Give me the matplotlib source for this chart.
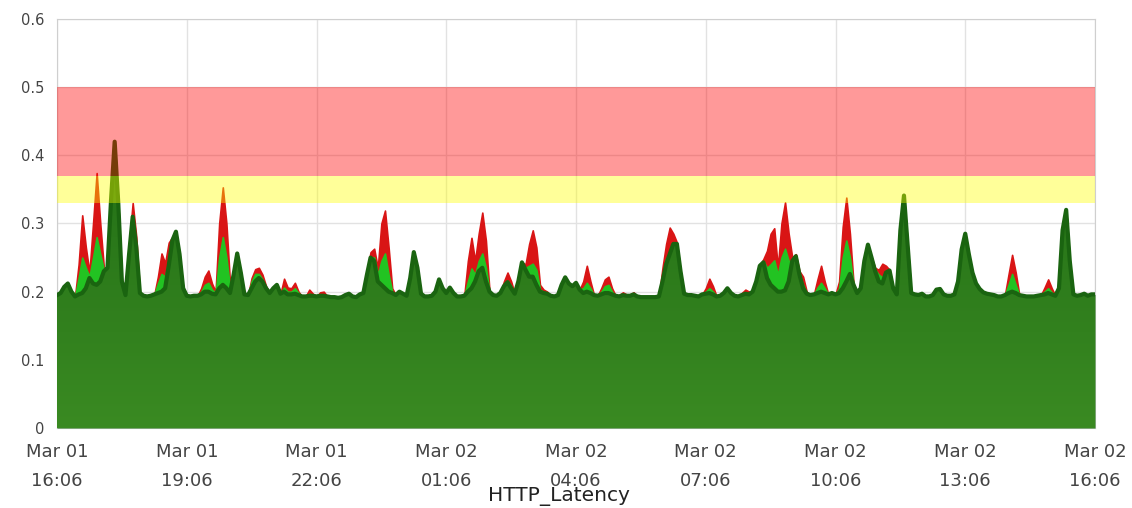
import numpy as np
import pandas as pd
import matplotlib
matplotlib.use("Agg")
import matplotlib.pyplot as plt
import matplotlib.dates as mdates
from matplotlib.colors import LinearSegmentedColormap

# 5-minute samples, Mar 01 16:06 -> Mar 02 16:06 (one row per hour)
times = pd.date_range("2016-03-01 16:06", periods=289, freq="5min")

# dark green series (bottom layer)
dark = [
    .195, .198, .207, .212, .200, .193, .196, .198, .205, .220, .212, .210,
    .215, .230, .235, .335, .420, .330, .215, .195, .255, .310, .265, .198,
    .194, .193, .194, .196, .198, .200, .205, .238, .275, .288, .255, .205,
    .194, .193, .194, .194, .196, .200, .200, .197, .196, .205, .210, .205,
    .198, .225, .256, .228, .196, .195, .205, .215, .220, .215, .205, .198,
    .205, .210, .197, .200, .196, .196, .197, .195, .193, .193, .194, .194,
    .193, .194, .194, .193, .192, .192, .191, .192, .195, .197, .193, .192,
    .196, .198, .225, .250, .245, .215, .210, .205, .200, .198, .195, .200,
    .197, .194, .220, .258, .235, .197, .193, .193, .194, .200, .218, .205,
    .198, .206, .198, .193, .193, .194, .200, .205, .215, .230, .235, .215,
    .200, .195, .194, .198, .208, .214, .205, .197, .215, .243, .232, .222,
    .222, .210, .200, .198, .197, .194, .193, .195, .210, .221, .212, .208,
    .213, .203, .198, .200, .198, .195, .194, .196, .198, .198, .196, .194,
    .193, .195, .194, .194, .196, .193, .192, .192, .192, .192, .192, .193,
    .215, .240, .255, .270, .270, .230, .197, .195, .195, .194, .193, .196,
    .197, .198, .196, .193, .194, .198, .205, .198, .194, .193, .195, .197,
    .196, .200, .215, .238, .243, .220, .210, .205, .200, .200, .202, .215,
    .245, .252, .225, .205, .197, .195, .196, .198, .200, .198, .196, .198,
    .196, .198, .205, .215, .226, .210, .198, .205, .245, .269, .250, .230,
    .215, .212, .228, .231, .205, .196, .290, .341, .270, .198, .196, .195,
    .197, .193, .193, .195, .203, .204, .196, .194, .194, .196, .215, .262,
    .285, .255, .228, .212, .204, .199, .197, .196, .195, .193, .193, .195,
    .198, .200, .198, .195, .194, .193, .193, .193, .194, .195, .196, .198,
    .196, .194, .205, .290, .320, .245, .196, .194, .195, .197, .194, .196, .196,
]

# light green layer (top of)
light = [
    .195, .198, .207, .212, .200, .193, .220, .250, .235, .222, .250, .280,
    .255, .232, .235, .335, .420, .330, .215, .195, .255, .310, .265, .198,
    .194, .193, .194, .196, .212, .226, .222, .248, .276, .288, .255, .205,
    .194, .193, .194, .194, .200, .210, .213, .203, .198, .250, .280, .250,
    .205, .225, .256, .228, .196, .195, .215, .226, .226, .218, .205, .198,
    .205, .210, .197, .206, .200, .200, .205, .198, .193, .193, .197, .195,
    .193, .196, .196, .193, .192, .192, .191, .192, .195, .197, .193, .192,
    .196, .198, .226, .250, .250, .225, .245, .256, .225, .200, .195, .200,
    .197, .194, .220, .258, .235, .197, .193, .193, .194, .200, .218, .205,
    .198, .206, .198, .193, .193, .194, .215, .234, .225, .245, .256, .235,
    .200, .195, .194, .198, .212, .216, .208, .197, .215, .243, .235, .238,
    .241, .232, .203, .200, .198, .194, .193, .195, .210, .221, .212, .208,
    .213, .203, .205, .213, .205, .195, .194, .200, .208, .210, .200, .194,
    .194, .196, .195, .195, .197, .193, .192, .192, .192, .192, .192, .193,
    .225, .248, .258, .272, .270, .230, .197, .195, .195, .194, .193, .196,
    .200, .205, .200, .193, .194, .198, .205, .198, .194, .193, .196, .199,
    .197, .200, .215, .238, .245, .235, .240, .246, .225, .250, .263, .245,
    .245, .252, .226, .210, .198, .195, .196, .206, .213, .205, .196, .198,
    .196, .205, .250, .275, .250, .210, .198, .205, .245, .269, .250, .232,
    .225, .221, .230, .231, .205, .196, .290, .341, .270, .198, .196, .195,
    .197, .193, .193, .195, .203, .204, .196, .194, .194, .196, .215, .262,
    .285, .255, .228, .212, .204, .199, .197, .196, .195, .193, .193, .195,
    .210, .226, .210, .195, .194, .193, .193, .193, .194, .195, .200, .205,
    .199, .194, .205, .290, .320, .245, .196, .194, .195, .197, .194, .196, .196,
]

# red layer (top of)
red = [
    .195, .198, .207, .212, .200, .193, .240, .312, .265, .228, .300, .374,
    .300, .235, .235, .335, .420, .330, .215, .195, .270, .330, .280, .198,
    .194, .193, .194, .196, .222, .256, .242, .272, .280, .288, .255, .205,
    .194, .193, .194, .194, .205, .222, .231, .212, .200, .300, .353, .300,
    .212, .225, .256, .228, .196, .195, .220, .233, .235, .225, .208, .198,
    .205, .210, .197, .219, .206, .205, .213, .200, .193, .193, .203, .197,
    .193, .199, .200, .193, .192, .192, .191, .192, .195, .197, .193, .192,
    .196, .198, .230, .258, .263, .235, .300, .319, .265, .205, .195, .200,
    .197, .194, .220, .258, .235, .197, .193, .193, .194, .200, .218, .205,
    .198, .206, .198, .193, .193, .194, .245, .279, .245, .285, .316, .275,
    .200, .195, .194, .198, .215, .228, .215, .197, .215, .243, .240, .270,
    .290, .265, .210, .203, .200, .194, .193, .195, .210, .221, .212, .208,
    .213, .203, .215, .238, .215, .195, .194, .205, .218, .222, .205, .194,
    .195, .199, .196, .196, .199, .193, .192, .192, .192, .192, .192, .193,
    .235, .270, .294, .285, .272, .230, .197, .195, .195, .194, .193, .196,
    .205, .219, .208, .193, .194, .198, .205, .198, .194, .193, .198, .203,
    .200, .200, .215, .238, .248, .260, .285, .293, .235, .300, .331, .285,
    .250, .255, .230, .222, .200, .195, .196, .218, .238, .215, .196, .198,
    .196, .215, .295, .338, .285, .212, .198, .205, .245, .269, .250, .235,
    .232, .241, .238, .232, .205, .196, .290, .341, .270, .198, .196, .195,
    .197, .193, .193, .195, .203, .204, .196, .194, .194, .196, .215, .262,
    .285, .255, .228, .212, .204, .199, .197, .196, .195, .193, .193, .195,
    .225, .254, .228, .195, .194, .193, .193, .193, .194, .195, .206, .218,
    .205, .194, .205, .290, .320, .245, .196, .194, .195, .197, .194, .196, .196,
]

# threshold bands
warn_band = (0.33, 0.37)
crit_band = (0.37, 0.50)

x = mdates.date2num(times.to_pydatetime())

fig = plt.figure(figsize=(11.32, 5.08), dpi=100)
ax = fig.add_axes([57 / 1132, 1 - 428 / 508, (1095 - 57) / 1132, (428 - 19) / 508])

ax.fill_between(x, 0, red, color="#d91515", lw=1.2, edgecolor="#d91515", zorder=2)
ax.fill_between(x, 0, light, color="#22c322", lw=1.2, edgecolor="#22c322", zorder=2.5)
poly = ax.fill_between(x, 0, dark, color="#2a7a1c", lw=0, zorder=3)

# vertical gradient inside the dark area
grad = np.linspace(0, 1, 256).reshape(-1, 1)
cmap = LinearSegmentedColormap.from_list("g", ["#3a8a22", "#226f16"])
im = ax.imshow(grad, extent=[x[0], x[-1], 0, 0.42], origin="lower",
               aspect="auto", cmap=cmap, zorder=3.2)
im.set_clip_path(poly.get_paths()[0], transform=ax.transData)

ax.plot(x, dark, color="#1a6410", lw=3, zorder=4, solid_joinstyle="round")

ax.axhspan(*crit_band, color="#ff0000", alpha=0.4, lw=0, zorder=5)
ax.axhspan(*warn_band, color="#ffff00", alpha=0.4, lw=0, zorder=5)

ax.set_xlim(x[0], x[-1])
ax.set_ylim(0, 0.6)
ax.set_yticks([0, 0.1, 0.2, 0.3, 0.4, 0.5, 0.6])
ax.set_yticklabels(["0", "0.1", "0.2", "0.3", "0.4", "0.5", "0.6"])
ticks = mdates.date2num(pd.date_range(times[0], times[-1], freq="3h").to_pydatetime())
ax.set_xticks(ticks)
ax.xaxis.set_major_formatter(mdates.DateFormatter("%b %d\n%H:%M"))

ax.grid(True, color="#e2e2e2", lw=1, zorder=0)
ax.set_axisbelow(True)
for s in ax.spines.values():
    s.set_color("#cfcfcf")
ax.tick_params(length=0, colors="#444444")
ax.tick_params(axis="x", pad=11, labelsize=13)
ax.tick_params(axis="y", pad=9, labelsize=10.5)
for lab in ax.get_xticklabels():
    lab.set_linespacing(1.75)

fig.text(559 / 1132, 1 - 497 / 508, "HTTP_Latency", ha="center", va="center",
         fontsize=14.5, color="#222222")

fig.savefig("out.png", dpi=100)
